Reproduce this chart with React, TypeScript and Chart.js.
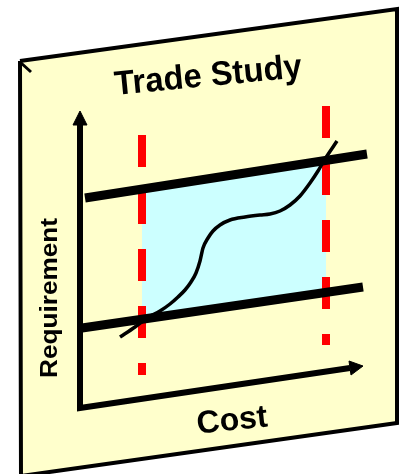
import { useEffect, useRef } from "react";
import { Chart, registerables } from "chart.js";

Chart.register(...registerables);

// Illustration plane: x = cost units (0..401), y = requirement units (0..474, drawn downward)
const PANEL_X = [20, 397, 397, 21, 20];
const PANEL_Y = [61, 9, 423, 476, 61];
const FOLD_X = [20, 31];
const FOLD_Y = [62, 72];
const BAND_X = [142, 326, 326, 142];
const BAND_Y = [189, 160, 292.5, 319.5];
const LOW_LIMIT_X = [142, 142];
const LOW_LIMIT_Y = [135, 375];
const HIGH_LIMIT_X = [326, 326];
const HIGH_LIMIT_Y = [106, 345];
const UPPER_REQ_X = [85, 367];
const UPPER_REQ_Y = [198, 154];
const LOWER_REQ_X = [82, 363];
const LOWER_REQ_Y = [328, 287];
const CURVE_X = [120, 135, 147, 160, 170, 178, 185, 191, 196, 200, 203, 208, 213, 220, 230, 245, 260, 270, 280, 290, 300, 310, 318, 325, 337];
const CURVE_Y = [337, 327, 318, 311, 304, 297, 290, 282, 273, 261, 248, 238, 231, 225, 220, 217, 215, 214, 211, 205, 196, 183, 171, 159, 141];
const AXIS_X = [80, 80, 350];
const AXIS_Y = [124, 408, 368];
const Y_ARROW_X = [73, 80, 87, 73];
const Y_ARROW_Y = [125, 111, 125, 125];
const X_ARROW_X = [349, 363, 351, 349];
const X_ARROW_Y = [361, 366, 375, 361];

const TITLE = "Trade Study";
const X_LABEL = "Cost";
const Y_LABEL = "Requirement";

const pts = (xs: number[], ys: number[]) => xs.map((x, i) => ({ x, y: ys[i] }));

const labelsPlugin = {
  id: "illustrationLabels",
  afterDatasetsDraw(chart: any) {
    const ctx = chart.ctx as CanvasRenderingContext2D;
    const sx = chart.scales.x;
    const sy = chart.scales.y;
    const draw = (text: string, px: number, py: number, angle: number, size: number, width: number) => {
      ctx.save();
      ctx.translate(sx.getPixelForValue(px), sy.getPixelForValue(py));
      ctx.rotate((angle * Math.PI) / 180);
      ctx.font = `bold ${size}px "Liberation Sans", Arial, sans-serif`;
      const w = ctx.measureText(text).width;
      ctx.scale(width / w, 1);
      ctx.textAlign = "center";
      ctx.textBaseline = "alphabetic";
      ctx.fillStyle = "#000000";
      ctx.fillText(text, 0, 0);
      ctx.restore();
    };
    draw(TITLE, 209, 86, -5.5, 34, 188);
    draw(X_LABEL, 233, 430, -6, 32, 71);
    draw(Y_LABEL, 57, 298, -90, 23.5, 160);
  },
};

export default function App() {
  const ref = useRef<HTMLCanvasElement | null>(null);

  useEffect(() => {
    if (!ref.current) return;
    const base = { pointRadius: 0, tension: 0, borderCapStyle: "butt", borderJoinStyle: "miter" };
    const chart = new Chart(ref.current, {
      type: "line",
      data: {
        datasets: [
          {
            ...base,
            data: pts(PANEL_X, PANEL_Y),
            fill: "shape",
            backgroundColor: "#FFFFCC",
            borderColor: "#000000",
            borderWidth: 4,
            order: 10,
          },
          {
            ...base,
            data: pts(FOLD_X, FOLD_Y),
            fill: false,
            borderColor: "#000000",
            borderWidth: 3,
            order: 9,
          },
          {
            ...base,
            data: pts(BAND_X, BAND_Y),
            fill: "shape",
            backgroundColor: "#CCFFFF",
            borderWidth: 0,
            borderColor: "rgba(0,0,0,0)",
            order: 8,
          },
          {
            ...base,
            data: pts(LOW_LIMIT_X, LOW_LIMIT_Y),
            fill: false,
            borderColor: "#FF0000",
            borderWidth: 8,
            borderDash: [32, 25],
            order: 7,
          },
          {
            ...base,
            data: pts(HIGH_LIMIT_X, HIGH_LIMIT_Y),
            fill: false,
            borderColor: "#FF0000",
            borderWidth: 8,
            borderDash: [32, 25],
            order: 7,
          },
          {
            ...base,
            data: pts(UPPER_REQ_X, UPPER_REQ_Y),
            fill: false,
            borderColor: "#000000",
            borderWidth: 9,
            order: 6,
          },
          {
            ...base,
            data: pts(LOWER_REQ_X, LOWER_REQ_Y),
            fill: false,
            borderColor: "#000000",
            borderWidth: 9,
            order: 6,
          },
          {
            ...base,
            data: pts(CURVE_X, CURVE_Y),
            fill: false,
            borderColor: "#000000",
            borderWidth: 3.5,
            cubicInterpolationMode: "monotone",
            order: 5,
          },
          {
            ...base,
            data: pts(AXIS_X, AXIS_Y),
            fill: false,
            borderColor: "#000000",
            borderWidth: 6,
            order: 4,
          },
          {
            ...base,
            data: pts(Y_ARROW_X, Y_ARROW_Y),
            fill: "shape",
            backgroundColor: "#000000",
            borderColor: "#000000",
            borderWidth: 1,
            order: 3,
          },
          {
            ...base,
            data: pts(X_ARROW_X, X_ARROW_Y),
            fill: "shape",
            backgroundColor: "#000000",
            borderColor: "#000000",
            borderWidth: 1,
            order: 3,
          },
        ] as any,
      },
      options: {
        animation: false,
        responsive: false,
        maintainAspectRatio: false,
        layout: { padding: 0 },
        events: [],
        plugins: {
          legend: { display: false },
          tooltip: { enabled: false },
          title: { display: false },
        },
        scales: {
          x: { type: "linear", min: 0, max: 401, display: false },
          y: { type: "linear", min: 0, max: 474, reverse: true, display: false },
        },
      },
      plugins: [labelsPlugin],
    });
    return () => chart.destroy();
  }, []);

  return (
    <div style={{ position: "fixed", left: 0, top: 0, width: 401, height: 474, background: "#ffffff" }}>
      <canvas ref={ref} width={401} height={474} />
    </div>
  );
}
